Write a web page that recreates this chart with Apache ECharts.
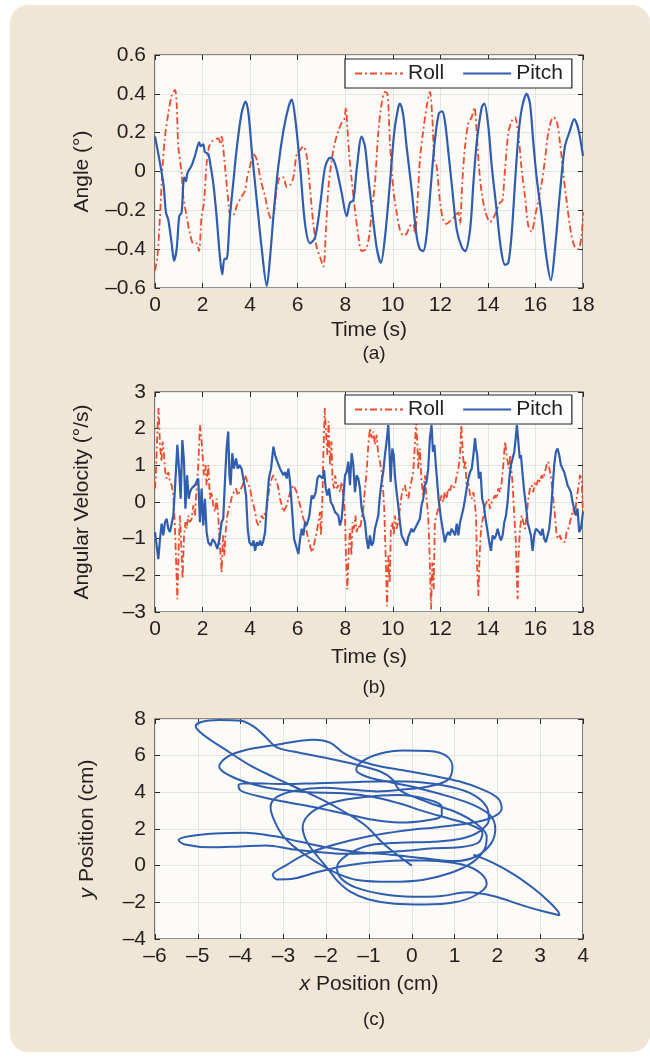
<!DOCTYPE html>
<html>
<head>
<meta charset="utf-8">
<script src="https://cdn.jsdelivr.net/npm/echarts@6/dist/echarts.min.js"></script>
<style>
html,body{margin:0;padding:0;background:#fff;}
#c{width:650px;height:1057px;}
</style>
</head>
<body>
<div id="c"></div>
<script>
// ---- DATA ----
var seriesNames = ['Roll', 'Pitch'];
var timeTicks = ['0','2','4','6','8','10','12','14','16','18'];
var angleTicks = ['–0.6','–0.4','–0.2','0','0.2','0.4','0.6'];
var velTicks = ['–3','–2','–1','0','1','2','3'];
var posXTicks = ['–6','–5','–4','–3','–2','–1','0','1','2','3','4'];
var posYTicks = ['–4','–2','0','2','4','6','8'];

// (a) angle, [time s, deg]
var angleRoll = [[0,-0.51],[0.1,-0.44],[0.21,-0.23],[0.32,0.03],[0.42,0.18],[0.56,0.30],[0.70,0.39],[0.84,0.42],[0.91,0.35],[0.98,0.13],[1.12,-0.01],[1.19,-0.13],[1.33,-0.23],[1.47,-0.32],[1.61,-0.37],[1.75,-0.37],[1.85,-0.41],[1.96,-0.23],[2.06,-0.16],[2.17,0.04],[2.28,0.13],[2.45,0.16],[2.66,0.17],[2.76,0.14],[2.8,0.18],[2.94,0.03],[3.08,-0.15],[3.18,-0.23],[3.32,-0.22],[3.46,-0.17],[3.64,-0.13],[3.78,-0.10],[3.88,-0.03],[4.0,0.03],[4.14,0.09],[4.28,0.06],[4.44,-0.04],[4.63,-0.13],[4.77,-0.21],[4.91,-0.25],[5.02,-0.20],[5.12,-0.09],[5.26,-0.03],[5.40,-0.03],[5.54,-0.08],[5.68,-0.07],[5.82,-0.03],[5.96,0.09],[6.10,0.11],[6.24,0.13],[6.38,0.08],[6.52,-0.09],[6.66,-0.27],[6.8,-0.39],[6.94,-0.44],[7.08,-0.49],[7.19,-0.30],[7.29,-0.09],[7.43,0.06],[7.57,0.15],[7.71,0.21],[7.85,0.25],[7.96,0.27],[8.03,0.33],[8.09,0.23],[8.17,0.08],[8.27,-0.04],[8.41,-0.20],[8.55,-0.33],[8.69,-0.41],[8.87,-0.40],[9.01,-0.33],[9.11,-0.21],[9.25,-0.06],[9.39,0.20],[9.53,0.35],[9.67,0.41],[9.78,0.40],[9.88,0.15],[10.02,-0.09],[10.16,-0.21],[10.30,-0.30],[10.44,-0.33],[10.58,-0.32],[10.72,-0.28],[10.86,-0.27],[10.93,-0.32],[11.05,-0.13],[11.14,0.06],[11.28,0.21],[11.42,0.33],[11.56,0.41],[11.66,0.28],[11.75,0.06],[11.84,0.03],[11.98,-0.15],[12.12,-0.25],[12.26,-0.27],[12.45,-0.25],[12.62,-0.23],[12.76,-0.21],[12.83,-0.27],[12.92,-0.06],[13.04,0.13],[13.18,0.25],[13.32,0.28],[13.43,0.33],[13.53,0.20],[13.62,0.03],[13.74,-0.11],[13.9,-0.21],[14.09,-0.26],[14.23,-0.24],[14.37,-0.20],[14.51,-0.16],[14.61,-0.15],[14.72,0.01],[14.86,0.20],[15.0,0.26],[15.14,0.28],[15.21,0.25],[15.31,0.16],[15.42,0.01],[15.56,-0.13],[15.7,-0.28],[15.84,-0.31],[15.98,-0.23],[16.12,-0.15],[16.26,-0.06],[16.4,0.06],[16.54,0.20],[16.75,0.28],[16.89,0.26],[17.03,0.15],[17.17,-0.01],[17.31,-0.15],[17.5,-0.32],[17.66,-0.39],[17.8,-0.40],[17.94,-0.33],[18.0,-0.21]];
var anglePitch = [[0,0.18],[0.35,-0.06],[0.46,-0.21],[0.56,-0.25],[0.70,-0.37],[0.80,-0.46],[0.91,-0.40],[1.02,-0.23],[1.12,-0.21],[1.19,-0.06],[1.23,-0.03],[1.30,-0.05],[1.36,-0.01],[1.44,0.01],[1.54,0.03],[1.68,0.08],[1.86,0.15],[1.92,0.13],[2.03,0.14],[2.10,0.10],[2.24,0.09],[2.31,0.05],[2.45,-0.06],[2.59,-0.23],[2.73,-0.44],[2.83,-0.53],[2.92,-0.45],[3.01,-0.45],[3.15,-0.23],[3.29,-0.06],[3.43,0.11],[3.64,0.30],[3.81,0.36],[3.93,0.30],[4.07,0.11],[4.28,-0.15],[4.49,-0.40],[4.70,-0.59],[4.84,-0.44],[5.00,-0.20],[5.19,0.03],[5.40,0.21],[5.61,0.33],[5.75,0.37],[5.89,0.28],[6.10,0.03],[6.31,-0.27],[6.52,-0.37],[6.73,-0.34],[6.94,-0.18],[7.15,0.02],[7.36,0.07],[7.50,0.06],[7.64,0.01],[7.85,-0.11],[8.06,-0.23],[8.20,-0.16],[8.34,-0.15],[8.48,0.01],[8.69,0.18],[8.83,0.13],[8.97,-0.03],[9.11,-0.18],[9.32,-0.39],[9.50,-0.47],[9.67,-0.34],[9.88,-0.06],[10.06,0.20],[10.23,0.33],[10.30,0.35],[10.44,0.29],[10.58,0.13],[10.79,-0.09],[11.0,-0.33],[11.14,-0.40],[11.28,-0.41],[11.42,-0.33],[11.61,-0.06],[11.77,0.16],[11.94,0.30],[12.08,0.31],[12.19,0.26],[12.33,0.11],[12.50,-0.09],[12.69,-0.30],[12.9,-0.39],[13.04,-0.41],[13.25,-0.30],[13.39,-0.06],[13.53,0.15],[13.74,0.33],[13.85,0.35],[14.02,0.23],[14.16,0.03],[14.37,-0.20],[14.55,-0.40],[14.72,-0.48],[14.86,-0.47],[15.0,-0.32],[15.14,-0.06],[15.28,0.18],[15.42,0.32],[15.63,0.40],[15.77,0.35],[15.91,0.15],[16.05,-0.03],[16.26,-0.23],[16.47,-0.45],[16.65,-0.56],[16.82,-0.40],[17.03,-0.11],[17.24,0.13],[17.45,0.21],[17.63,0.27],[17.8,0.22],[18.0,0.08]];

// (b) angular velocity, [time s, deg/s]
var velRoll = [[0,0.37],[0.04,0.82],[0.10,1.92],[0.15,2.56],[0.21,1.56],[0.27,1.10],[0.32,1.65],[0.38,1.28],[0.43,0.82],[0.49,0.64],[0.56,0.82],[0.63,0.55],[0.70,0.46],[0.77,0.18],[0.83,-0.55],[0.88,-1.46],[0.94,-2.65],[1.0,-1.19],[1.05,-0.37],[1.11,-1.28],[1.16,-2.10],[1.22,-0.91],[1.28,-0.55],[1.33,-0.73],[1.40,-0.37],[1.47,-0.55],[1.54,-0.46],[1.61,-0.09],[1.68,-0.37],[1.75,0.37],[1.82,1.01],[1.89,2.10],[1.95,1.74],[2.0,1.28],[2.06,0.73],[2.12,1.01],[2.17,0.46],[2.24,1.01],[2.31,0.09],[2.38,0.27],[2.45,-0.09],[2.52,-0.27],[2.59,0.09],[2.66,-0.37],[2.73,-1.19],[2.80,-1.92],[2.86,-0.91],[2.92,-1.46],[2.97,-0.82],[3.04,-0.37],[3.11,-0.18],[3.18,0.0],[3.25,0.18],[3.32,0.27],[3.41,0.37],[3.48,0.18],[3.55,0.27],[3.62,0.37],[3.69,0.46],[3.79,0.73],[3.86,0.59],[3.93,0.64],[4.0,0.37],[4.07,0.09],[4.14,-0.09],[4.21,-0.27],[4.28,-0.55],[4.35,-0.64],[4.42,-0.55],[4.49,-0.37],[4.56,-0.46],[4.63,-0.27],[4.70,-0.18],[4.77,0.18],[4.84,0.46],[4.91,0.64],[4.98,0.73],[5.05,0.64],[5.12,0.55],[5.19,0.37],[5.26,0.09],[5.33,-0.09],[5.40,-0.27],[5.47,-0.18],[5.54,-0.09],[5.61,0.09],[5.68,0.27],[5.75,0.37],[5.82,0.46],[5.89,0.37],[5.96,0.27],[6.03,0.09],[6.10,-0.09],[6.17,-0.27],[6.24,-0.46],[6.31,-0.55],[6.38,-0.82],[6.45,-1.01],[6.52,-1.19],[6.59,-1.37],[6.66,-1.28],[6.73,-1.01],[6.80,-0.82],[6.87,-0.55],[6.94,-0.27],[6.98,-0.91],[7.04,0.09],[7.08,1.28],[7.14,2.56],[7.19,1.92],[7.25,1.28],[7.30,2.20],[7.36,1.01],[7.42,1.65],[7.47,0.55],[7.53,0.37],[7.58,0.73],[7.64,0.37],[7.71,0.46],[7.78,0.27],[7.85,0.55],[7.92,0.18],[7.99,-0.37],[8.03,-1.46],[8.09,-2.38],[8.15,-1.28],[8.20,-0.73],[8.26,-1.46],[8.31,-0.55],[8.37,-0.73],[8.43,-0.37],[8.48,-0.82],[8.55,-0.64],[8.62,-0.73],[8.69,-0.46],[8.76,-0.18],[8.83,0.37],[8.90,0.82],[8.97,1.56],[9.04,2.01],[9.11,1.74],[9.18,1.92],[9.25,1.56],[9.32,1.83],[9.39,1.28],[9.46,1.10],[9.53,0.82],[9.60,0.27],[9.64,-0.18],[9.70,-1.46],[9.76,-2.84],[9.81,-1.46],[9.87,-2.20],[9.92,-0.73],[9.98,-0.55],[10.04,-0.91],[10.09,-0.37],[10.16,-0.73],[10.23,-0.55],[10.30,-0.18],[10.37,0.18],[10.44,0.37],[10.51,0.46],[10.58,0.18],[10.65,0.09],[10.72,0.37],[10.79,0.37],[10.86,0.82],[10.93,1.56],[10.98,2.20],[11.03,1.65],[11.07,0.91],[11.14,1.46],[11.21,0.55],[11.28,0.18],[11.35,0.73],[11.42,0.09],[11.49,-0.37],[11.55,-1.46],[11.61,-2.93],[11.66,-1.65],[11.72,-2.38],[11.77,-0.55],[11.84,-0.37],[11.91,-0.18],[11.98,0.0],[12.05,0.18],[12.12,0.0],[12.19,0.27],[12.26,0.09],[12.33,0.37],[12.40,0.27],[12.47,0.46],[12.55,0.37],[12.62,0.46],[12.69,0.73],[12.76,0.91],[12.83,1.28],[12.88,2.10],[12.94,1.37],[13.0,0.91],[13.05,1.10],[13.11,0.37],[13.18,0.55],[13.25,0.18],[13.32,0.09],[13.39,0.27],[13.46,-0.09],[13.50,-0.37],[13.54,-1.65],[13.60,-2.56],[13.65,-1.46],[13.71,-0.73],[13.76,-0.55],[13.82,-0.37],[13.88,-0.09],[13.95,0.0],[14.02,0.09],[14.09,-0.18],[14.16,0.0],[14.23,0.09],[14.30,0.18],[14.37,0.09],[14.44,0.37],[14.51,0.27],[14.58,0.55],[14.65,1.01],[14.72,1.65],[14.77,1.37],[14.83,1.10],[14.89,0.91],[14.94,1.28],[15.0,0.82],[15.05,0.37],[15.11,-0.37],[15.17,-1.01],[15.21,-2.01],[15.25,-2.65],[15.29,-1.46],[15.35,-0.73],[15.42,-0.37],[15.49,-0.55],[15.56,-0.73],[15.63,-0.37],[15.70,0.09],[15.77,0.37],[15.84,0.46],[15.91,0.27],[15.98,0.55],[16.05,0.46],[16.12,0.64],[16.19,0.55],[16.26,0.73],[16.33,0.64],[16.40,0.82],[16.47,1.01],[16.54,1.10],[16.61,0.82],[16.68,0.55],[16.75,0.09],[16.82,-0.37],[16.89,-0.91],[16.96,-1.01],[17.03,-0.91],[17.10,-1.05],[17.17,-1.01],[17.24,-1.10],[17.31,-0.82],[17.38,-0.73],[17.45,-0.55],[17.52,-0.37],[17.59,-0.18],[17.66,-0.37],[17.73,0.09],[17.80,0.37],[17.87,0.73],[17.94,0.64],[18.0,-0.37]];
var velPitch = [[0,-0.82],[0.07,-1.19],[0.14,-1.56],[0.21,-1.01],[0.28,-0.59],[0.35,-0.91],[0.42,-0.55],[0.49,-0.46],[0.56,-0.73],[0.63,-0.82],[0.70,-0.78],[0.77,-0.37],[0.84,0.37],[0.94,1.56],[1.02,0.82],[1.08,0.09],[1.15,1.69],[1.22,1.10],[1.28,-0.18],[1.35,0.73],[1.42,0.09],[1.47,0.27],[1.54,0.37],[1.61,0.37],[1.68,0.46],[1.75,0.55],[1.82,0.64],[1.89,-0.55],[1.96,0.37],[2.03,-0.64],[2.10,0.09],[2.17,-0.82],[2.24,-1.10],[2.34,-1.19],[2.43,-1.01],[2.52,-1.10],[2.62,-1.28],[2.71,-1.01],[2.80,-0.55],[2.87,-0.46],[2.94,0.55],[3.01,1.46],[3.08,1.92],[3.13,0.73],[3.18,0.46],[3.25,1.33],[3.32,0.91],[3.41,1.19],[3.48,0.91],[3.55,1.01],[3.64,0.91],[3.74,0.55],[3.83,0.18],[3.90,-0.73],[3.97,-1.10],[4.07,-1.19],[4.14,-1.05],[4.21,-1.33],[4.28,-1.10],[4.35,-1.19],[4.42,-1.05],[4.49,-1.19],[4.56,-1.05],[4.63,-0.82],[4.70,-0.09],[4.79,0.64],[4.88,0.91],[4.98,1.51],[5.05,1.28],[5.12,1.14],[5.19,1.14],[5.26,0.91],[5.33,0.91],[5.40,0.73],[5.47,0.82],[5.54,0.64],[5.61,0.91],[5.68,0.55],[5.75,-0.09],[5.85,-1.01],[5.93,-1.19],[6.03,-1.42],[6.10,-1.01],[6.17,-0.73],[6.24,-0.91],[6.31,-0.55],[6.38,-0.64],[6.49,-0.37],[6.59,0.18],[6.66,0.09],[6.76,0.27],[6.83,0.64],[6.91,0.73],[6.98,0.78],[7.05,0.64],[7.11,0.87],[7.18,0.37],[7.25,0.18],[7.32,0.37],[7.39,0.0],[7.47,-0.09],[7.57,-0.27],[7.64,-0.27],[7.71,-0.37],[7.78,-0.64],[7.85,-0.46],[7.92,0.09],[7.99,0.73],[8.06,0.82],[8.13,1.10],[8.20,0.46],[8.27,1.33],[8.34,1.01],[8.41,0.27],[8.48,0.73],[8.55,0.64],[8.62,0.37],[8.69,-0.18],[8.76,-0.37],[8.83,-0.55],[8.90,-1.01],[8.97,-1.28],[9.04,-0.91],[9.11,-1.19],[9.18,-1.10],[9.25,-0.73],[9.32,-0.55],[9.39,-0.37],[9.46,0.18],[9.53,0.55],[9.60,0.82],[9.67,1.28],[9.74,1.65],[9.81,2.10],[9.85,1.56],[9.91,0.55],[9.98,1.46],[10.04,1.28],[10.09,0.73],[10.16,0.27],[10.23,-0.09],[10.30,-0.55],[10.37,-0.91],[10.44,-0.91],[10.51,-1.10],[10.58,-1.19],[10.65,-0.96],[10.72,-0.91],[10.79,-0.73],[10.86,-0.82],[10.93,-0.73],[11.0,-0.64],[11.07,-0.59],[11.14,-0.46],[11.21,-0.09],[11.28,0.09],[11.35,0.46],[11.42,0.55],[11.49,0.91],[11.56,1.74],[11.63,2.10],[11.69,1.37],[11.75,1.56],[11.80,1.10],[11.89,0.37],[11.94,0.0],[12.03,-0.46],[12.12,-0.82],[12.19,-1.10],[12.26,-0.91],[12.33,-0.82],[12.40,-0.91],[12.47,-0.73],[12.55,-0.82],[12.62,-0.91],[12.69,-0.59],[12.76,-0.91],[12.83,-0.55],[12.90,-0.37],[12.97,-0.18],[13.04,0.09],[13.11,0.37],[13.18,0.64],[13.25,0.82],[13.32,0.91],[13.39,1.28],[13.46,1.74],[13.50,1.46],[13.55,1.28],[13.62,0.64],[13.69,0.82],[13.76,0.09],[13.83,-0.09],[13.90,-0.46],[13.99,-0.82],[14.06,-1.10],[14.13,-1.33],[14.20,-0.91],[14.27,-1.01],[14.34,-0.91],[14.41,-0.73],[14.48,-0.91],[14.55,-1.05],[14.62,-0.91],[14.69,-0.55],[14.76,-0.37],[14.83,0.0],[14.90,0.64],[14.97,1.01],[15.04,1.19],[15.11,1.37],[15.17,1.74],[15.22,2.10],[15.28,1.65],[15.34,1.19],[15.39,1.28],[15.45,0.82],[15.53,0.27],[15.60,-0.09],[15.67,-0.55],[15.74,-0.73],[15.81,-0.91],[15.88,-1.33],[15.95,-0.91],[16.02,-0.73],[16.09,-0.73],[16.16,-0.82],[16.23,-0.91],[16.30,-0.73],[16.37,-1.01],[16.44,-1.10],[16.51,-0.91],[16.58,-0.73],[16.65,-0.27],[16.72,0.37],[16.79,1.01],[16.86,1.37],[16.93,1.46],[17.0,1.28],[17.07,1.01],[17.14,0.91],[17.21,0.82],[17.28,0.64],[17.35,0.46],[17.42,0.37],[17.49,0.27],[17.56,0.0],[17.63,0.0],[17.70,-0.37],[17.77,-0.18],[17.84,-0.82],[17.91,-0.73],[18.0,-0.27]];

// (c) trajectory, [x cm, y cm]
var trajectory = [[0,0],[-0.62,1.11],[-1.09,2.2],[-1.55,2.9],[-2.05,3.55],[-2.6,4.15],[-3.2,4.8],[-3.8,5.5],[-4.4,6.4],[-4.85,7.1],[-5.05,7.6],[-4.9,7.85],[-4.5,7.95],[-4.0,7.9],[-3.7,7.6],[-3.45,7.1],[-3.15,6.45],[-2.6,6.15],[-2.05,5.9],[-1.45,5.6],[-0.75,5.15],[-0.45,4.7],[-0.3,4.15],[0.05,3.75],[0.5,3.35],[1.05,2.9],[1.5,2.3],[1.75,1.6],[1.7,0.9],[1.4,0.15],[0.9,-0.4],[0.25,-0.78],[-0.5,-0.88],[-1.28,-0.78],[-1.75,-0.42],[-2.2,0.15],[-2.65,0.85],[-3.0,1.6],[-3.22,2.5],[-3.3,3.2],[-3.15,3.75],[-2.7,4.1],[-2.05,4.25],[-1.45,4.15],[-0.8,4.05],[-0.2,4.15],[0.45,4.35],[0.85,4.7],[0.95,5.4],[0.8,6.0],[0.4,6.25],[-0.2,6.28],[-0.75,6.1],[-1.15,5.7],[-1.3,5.25],[-1.05,4.85],[-0.5,4.55],[0.2,4.2],[0.9,3.75],[1.45,3.3],[1.85,2.7],[1.95,2.0],[1.85,1.2],[1.5,0.5],[1.0,0.25],[0.3,0.4],[-0.5,0.6],[-1.3,0.75],[-2.0,1.0],[-2.6,1.3],[-3.2,1.6],[-3.9,1.8],[-4.6,1.75],[-5.2,1.6],[-5.45,1.4],[-5.3,1.15],[-4.7,1.0],[-4.0,1.05],[-3.4,1.1],[-2.8,0.9],[-2.2,0.75],[-1.6,0.65],[-0.9,0.7],[-0.2,0.8],[0.5,0.95],[1.1,1.0],[1.55,1.25],[1.65,1.8],[1.4,2.2],[0.9,2.55],[0.3,2.95],[-0.3,3.4],[-0.9,3.75],[-1.6,3.95],[-2.4,4.0],[-3.1,4.15],[-3.65,4.4],[-4.2,4.85],[-4.5,5.4],[-4.3,5.95],[-3.9,6.3],[-3.15,6.6],[-2.3,6.87],[-1.9,6.7],[-1.6,6.15],[-1.25,5.75],[-0.8,5.45],[-0.2,5.2],[0.5,4.9],[1.1,4.6],[1.6,4.2],[2.0,3.7],[2.1,3.1],[1.85,2.6],[1.3,2.3],[0.6,2.1],[-0.2,1.9],[-1.0,1.6],[-1.8,1.15],[-2.5,0.6],[-2.95,0.0],[-3.25,-0.5],[-3.15,-0.75],[-2.75,-0.7],[-2.2,-0.35],[-1.55,0.0],[-0.85,0.2],[-0.1,0.3],[0.6,0.25],[1.2,0.05],[1.6,-0.4],[1.75,-1.0],[1.5,-1.6],[1.0,-2.0],[0.3,-2.12],[-0.4,-2.08],[-1.0,-1.85],[-1.45,-1.4],[-1.75,-0.8],[-1.95,-0.2],[-2.2,0.5],[-2.45,1.3],[-2.55,2.1],[-2.35,2.9],[-1.85,3.45],[-1.1,3.75],[-0.3,3.85],[0.3,3.65],[0.7,3.2],[0.7,2.75],[0.3,2.45],[-0.3,2.35],[-0.9,2.5],[-1.6,2.85],[-2.3,3.2],[-3.0,3.5],[-3.6,3.8],[-4.0,4.1],[-4.05,4.4],[-3.7,4.5],[-3.0,4.45],[-2.2,4.5],[-1.4,4.55],[-0.6,4.6],[0.2,4.55],[0.9,4.3],[1.45,3.85],[1.75,3.2],[1.8,2.5],[1.6,1.9],[1.2,1.5],[0.5,1.3],[-0.3,1.25],[-1.0,1.1],[-1.5,0.6],[-1.75,-0.1],[-1.65,-0.7],[-1.3,-1.2],[-0.7,-1.55],[0.0,-1.7],[0.7,-1.65],[1.3,-1.45],[1.9,-1.65],[2.5,-2.1],[3.0,-2.45],[3.35,-2.65],[3.45,-2.7],[3.42,-2.5],[3.2,-1.95],[2.85,-1.25],[2.4,-0.5],[1.9,0.15],[1.44,0.6]];

// ---- STYLE ----
var FONT = '"Liberation Sans", Arial, Helvetica, sans-serif';
var TXT = '#231f20';
var ROLL_C = '#ee4a2c';
var PITCH_C = '#2f5db0';
var FS = 21;

var grids = [
  {left:155, top:55, width:428, height:233},
  {left:155, top:392, width:428, height:220},
  {left:155, top:719, width:428, height:220}
];
grids.forEach(function(g){ g.show = true; g.backgroundColor = '#fcfbf8'; g.borderColor = '#2a2a2a'; g.borderWidth = 1.2; });

function xAx(gi, min, max, interval, labels, name, pos, gap) {
  var main = pos === 'bottom';
  return {
    type:'value', gridIndex:gi, position:pos, min:min, max:max, interval:interval,
    axisLine:{show:false, onZero:false},
    axisTick:{show:true, inside:true, length:5, lineStyle:{color:'#2a2a2a', width:1}},
    splitLine:{show:main, lineStyle:{color:'#e4e4e2', width:1}},
    axisLabel:{show:main, margin:7, fontSize:FS, color:TXT, fontFamily:FONT,
      formatter:function(v, i){ return labels[Math.round((v - min)/interval)]; }},
    name: main ? name : '', nameLocation:'middle', nameGap:gap || 33,
    nameTextStyle:{fontSize:FS, color:TXT, fontFamily:FONT, rich:{i:{fontStyle:'italic', fontSize:FS, color:TXT, fontFamily:FONT}}}
  };
}
function yAx(gi, min, max, interval, labels, name, pos, gap) {
  var main = pos === 'left';
  return {
    type:'value', gridIndex:gi, position:pos, min:min, max:max, interval:interval,
    axisLine:{show:false, onZero:false},
    axisTick:{show:true, inside:true, length:5, lineStyle:{color:'#2a2a2a', width:1}},
    splitLine:{show:main, lineStyle:{color:'#e4e4e2', width:1}},
    axisLabel:{show:main, margin:9, fontSize:FS, color:TXT, fontFamily:FONT,
      formatter:function(v){ return labels[Math.round((v - min)/interval)]; }},
    name: main ? name : '', nameLocation:'middle', nameGap:gap,
    nameTextStyle:{fontSize:FS, color:TXT, fontFamily:FONT, rich:{i:{fontStyle:'italic', fontSize:FS, color:TXT, fontFamily:FONT}}}
  };
}

var rollLine = {color:ROLL_C, width:1.8, type:[7,3,2,3]};
var pitchLine = {color:PITCH_C, width:2.2, type:'solid'};

function legendAt(top) {
  return {
    left:345, top:top, orient:'horizontal', itemWidth:48, itemHeight:12, itemGap:18,
    padding:[4,9,4,9], backgroundColor:'#ffffff', borderColor:'#222', borderWidth:1.2, borderRadius:0,
    textStyle:{fontSize:FS, color:TXT, fontFamily:FONT},
    itemStyle:{opacity:0},
    data:seriesNames.slice(),
    selectedMode:false
  };
}

var option = {
  animation:false,
  backgroundColor:'#ffffff',
  textStyle:{fontFamily:FONT},
  graphic:[{type:'rect', left:10, top:5, z:-10, shape:{width:640, height:1047, r:18}, style:{fill:'#efe6d6'}}],
  title:[
    {text:'(a)', left:369, top:339, textAlign:'center', textStyle:{fontSize:19, fontWeight:'normal', color:TXT, fontFamily:FONT}},
    {text:'(b)', left:369, top:673, textAlign:'center', textStyle:{fontSize:19, fontWeight:'normal', color:TXT, fontFamily:FONT}},
    {text:'(c)', left:369, top:1005, textAlign:'center', textStyle:{fontSize:19, fontWeight:'normal', color:TXT, fontFamily:FONT}}
  ],
  legend:[legendAt(59), legendAt(395)],
  grid:grids,
  xAxis:[
    xAx(0, 0, 18, 2, timeTicks, 'Time (s)', 'bottom', 32),
    xAx(0, 0, 18, 2, timeTicks, '', 'top'),
    xAx(1, 0, 18, 2, timeTicks, 'Time (s)', 'bottom', 35),
    xAx(1, 0, 18, 2, timeTicks, '', 'top'),
    xAx(2, -6, 4, 1, posXTicks, '{i|x} Position (cm)', 'bottom', 35),
    xAx(2, -6, 4, 1, posXTicks, '', 'top')
  ],
  yAxis:[
    yAx(0, -0.6, 0.6, 0.2, angleTicks, 'Angle (°)', 'left', 62),
    yAx(0, -0.6, 0.6, 0.2, angleTicks, '', 'right', 40),
    yAx(1, -3, 3, 1, velTicks, 'Angular Velocity (°/s)', 'left', 62),
    yAx(1, -3, 3, 1, velTicks, '', 'right', 40),
    yAx(2, -4, 8, 2, posYTicks, '{i|y} Position (cm)', 'left', 57),
    yAx(2, -4, 8, 2, posYTicks, '', 'right', 40)
  ],
  series:[
    {name:seriesNames[0], type:'line', xAxisIndex:0, yAxisIndex:0, data:angleRoll, symbol:'none', smooth:0.3, lineStyle:rollLine, itemStyle:{color:ROLL_C}, z:2},
    {name:seriesNames[1], type:'line', xAxisIndex:0, yAxisIndex:0, data:anglePitch, symbol:'none', smooth:0.3, lineStyle:pitchLine, itemStyle:{color:PITCH_C}, z:3},
    {name:seriesNames[0], type:'line', xAxisIndex:2, yAxisIndex:2, data:velRoll, symbol:'none', lineStyle:rollLine, itemStyle:{color:ROLL_C}, z:2},
    {name:seriesNames[1], type:'line', xAxisIndex:2, yAxisIndex:2, data:velPitch, symbol:'none', lineStyle:pitchLine, itemStyle:{color:PITCH_C}, z:3},
    {name:'trajectory', type:'line', xAxisIndex:4, yAxisIndex:4, data:trajectory, symbol:'none', smooth:0.35, lineStyle:{color:PITCH_C, width:2}, itemStyle:{color:PITCH_C}, z:3}
  ]
};

var chart = echarts.init(document.getElementById('c'), null, {renderer:'canvas'});
chart.setOption(option);
</script>
</body>
</html>
